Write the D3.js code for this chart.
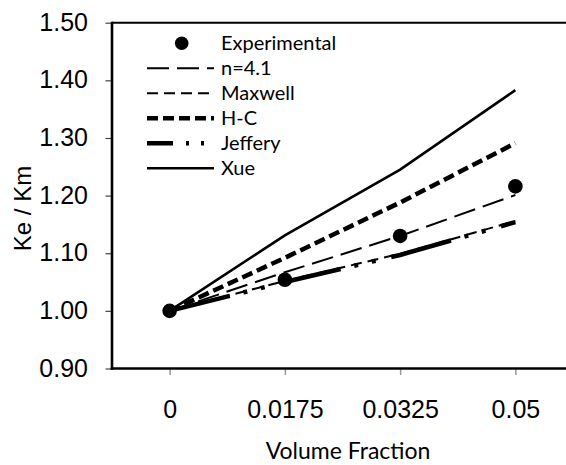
<!DOCTYPE html>
<html>
<head>
<meta charset="utf-8">
<script src="https://cdn.jsdelivr.net/npm/d3@7"></script>
<style>
  body { margin: 0; background: #fff; }
  svg { display: block; }
</style>
</head>
<body>
<div id="chart"></div>
<script>
// values
var categories = ["0", "0.0175", "0.0325", "0.05"];
var experimental = [1.000, 1.054, 1.130, 1.216];
var n41 = [1.000, 1.067, 1.130, 1.201];
var maxwell = [1.000, 1.052, 1.099, 1.156];
var hc = [1.000, 1.092, 1.188, 1.291];
var jeffery = [1.000, 1.050, 1.097, 1.154];
var xue = [1.000, 1.131, 1.245, 1.383];
var yTicks = [0.90, 1.00, 1.10, 1.20, 1.30, 1.40, 1.50];

var lineSeries = [
  { name: "n=4.1", values: n41, width: 2, dash: "22,8" },
  { name: "Maxwell", values: maxwell, width: 2, dash: "11,6" },
  { name: "H-C", values: hc, width: 4.5, dash: "11,5" },
  { name: "Jeffery", values: jeffery, width: 4.5, dash: "62,14,4,14,4,16", legendDash: "26,13,3,12,3,12" },
  { name: "Xue", values: xue, width: 2.6, dash: null }
];

var W = 566, H = 465;
var plotLeft = 112, plotRight = 573, plotTop = 22.7, plotBottom = 368.5;

var svg = d3.select("#chart").append("svg")
  .attr("width", W)
  .attr("height", H);

var x = d3.scalePoint().domain(categories).range([plotLeft, plotRight]).padding(0.5);
var y = d3.scaleLinear().domain([0.9, 1.5]).range([plotBottom, plotTop]);

// frame (right side runs off the picture)
svg.append("line")
  .attr("x1", plotLeft).attr("x2", plotRight)
  .attr("y1", plotTop).attr("y2", plotTop)
  .attr("stroke", "#000").attr("stroke-width", 2);

// y axis
var yAxis = svg.append("g").attr("transform", "translate(" + plotLeft + ",0)")
  .call(d3.axisLeft(y).tickValues(yTicks).tickSize(6.5).tickFormat(d3.format(".2f")));
yAxis.select(".domain").remove();
yAxis.selectAll(".tick line").attr("stroke", "#444").attr("stroke-width", 1.2);
yAxis.selectAll(".tick text")
  .attr("x", -24).attr("dy", "0.3em")
  .style("font-family", "'Liberation Sans', Arial, sans-serif")
  .style("font-size", "25px").attr("fill", "#000");

// x axis
var xAxis = svg.append("g").attr("transform", "translate(0," + plotBottom + ")")
  .call(d3.axisBottom(x).tickSize(6.5));
xAxis.select(".domain").remove();
xAxis.selectAll(".tick line").attr("stroke", "#999").attr("stroke-width", 1.5);
xAxis.selectAll(".tick text")
  .attr("y", 49.5).attr("dy", 0)
  .style("font-family", "'Liberation Sans', Arial, sans-serif")
  .style("font-size", "25px").attr("fill", "#000");

svg.append("line")
  .attr("x1", plotLeft).attr("x2", plotLeft)
  .attr("y1", plotTop - 1).attr("y2", plotBottom + 1.2)
  .attr("stroke", "#000").attr("stroke-width", 2.6);
svg.append("line")
  .attr("x1", plotLeft - 1.3).attr("x2", plotRight)
  .attr("y1", plotBottom).attr("y2", plotBottom)
  .attr("stroke", "#000").attr("stroke-width", 2.6);

// series lines
var line = d3.line()
  .x(function(d, i) { return x(categories[i]); })
  .y(function(d) { return y(d); });

lineSeries.forEach(function(s) {
  svg.append("path")
    .datum(s.values)
    .attr("d", line)
    .attr("fill", "none")
    .attr("stroke", "#000")
    .attr("stroke-width", s.width)
    .attr("stroke-dasharray", s.dash);
});

svg.selectAll(".exp")
  .data(experimental)
  .enter().append("circle")
  .attr("class", "exp")
  .attr("cx", function(d, i) { return x(categories[i]); })
  .attr("cy", function(d) { return y(d); })
  .attr("r", 7.3)
  .attr("fill", "#000");

// legend
var legX0 = 147, legX1 = 214, legText = 221, legY = 43.3, legStep = 25;
var legendFont = "Lato, 'Open Sans', sans-serif";

svg.append("circle")
  .attr("cx", 181.7).attr("cy", legY).attr("r", 6.8).attr("fill", "#000");
svg.append("text")
  .attr("x", legText).attr("y", legY + 6.8)
  .style("font-family", legendFont).style("font-size", "20px")
  .text("Experimental");

lineSeries.forEach(function(s, i) {
  var ly = legY + (i + 1) * legStep;
  svg.append("line")
    .attr("x1", legX0).attr("x2", legX1)
    .attr("y1", ly).attr("y2", ly)
    .attr("stroke", "#000")
    .attr("stroke-width", s.width)
    .attr("stroke-dasharray", s.legendDash || s.dash);
  svg.append("text")
    .attr("x", legText).attr("y", ly + 6.8)
    .style("font-family", legendFont).style("font-size", "20px")
    .text(s.name);
});

// axis titles
svg.append("text")
  .attr("x", 348).attr("y", 459)
  .attr("text-anchor", "middle")
  .style("font-family", legendFont).style("font-size", "23px")
  .text("Volume Fraction");

svg.append("text")
  .attr("transform", "translate(31,208.5) rotate(-90)")
  .attr("text-anchor", "middle")
  .style("font-family", "'Liberation Sans', Arial, sans-serif")
  .style("font-size", "24px")
  .text("Ke / Km");
</script>
</body>
</html>
